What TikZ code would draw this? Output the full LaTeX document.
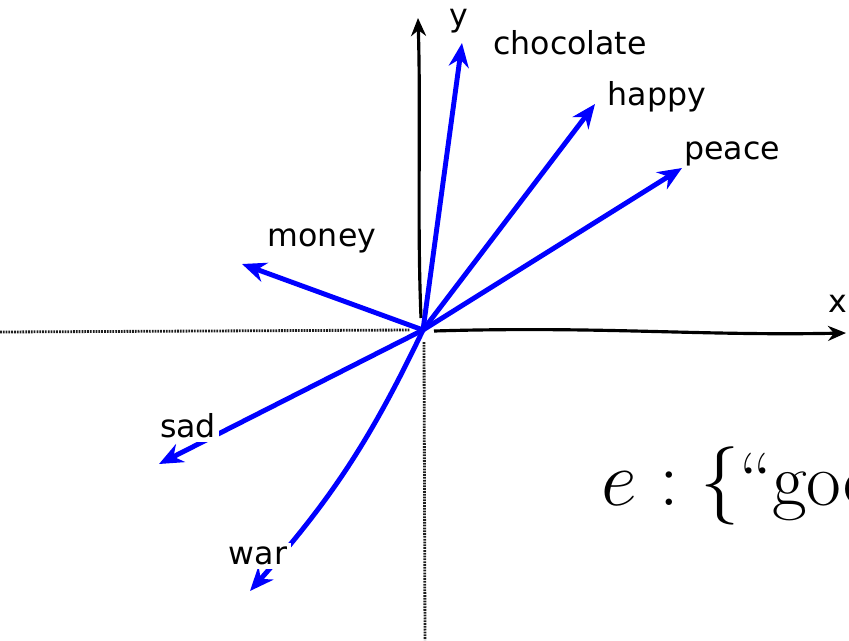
\documentclass[tikz,border=0pt]{standalone}
\usepackage{fontspec}
\newfontfamily\wordfont{DejaVu Sans}
\usepackage{xcolor}
\usetikzlibrary{arrows.meta}
\definecolor{vecblue}{RGB}{0,0,255}
\definecolor{axisgray}{RGB}{30,30,30}

\begin{document}
\begin{tikzpicture}[x=0.02cm, y=-0.02cm,
  vec/.style={draw=vecblue, line width=2.8pt, line cap=round,
              -{Stealth[length=4.8mm, width=4mm]}},
  axis/.style={draw=black, line width=1.8pt, -{Stealth[length=3.6mm, width=3mm]}},
  faint/.style={draw=axisgray, line width=1.6pt, dash pattern=on 1pt off 0.6pt},
  word/.style={font=\wordfont\fontsize{18}{20}\selectfont, inner sep=1pt},
  cover/.style={word, fill=white, inner sep=2pt}
]
  \useasboundingbox (0,0) rectangle (849,640);
  % axes
  \coordinate (o) at (423,330);
  \coordinate (xl) at (0,332);
  \coordinate (xr) at (846,333);
  \coordinate (yt) at (418,18);
  \coordinate (yb) at (425,640);
  \draw[faint] (xl) -- (410,330);
  \draw[faint] (424,342) -- (yb);
  \draw[axis] (434,331) .. controls (600,326) and (700,336) .. (xr);
  \draw[axis] (421,318) .. controls (417,220) and (421,120) .. (yt);
  \node[word] (ylab) at (459,21) {y};
  \node[word] (xlab) at (838,304) {x};
  % word vectors
  \coordinate (choc) at (462,43);
  \coordinate (hap) at (595,104);
  \coordinate (pea) at (682,168);
  \coordinate (mon) at (242,264);
  \coordinate (sa) at (159,464);
  \coordinate (wa) at (250,591);
  \draw[vec] (o) -- (choc);
  \draw[vec] (o) -- (hap);
  \draw[vec] (o) -- (pea);
  \draw[vec] (o) -- (mon);
  \draw[vec] (o) -- (sa);
  \draw[vec] (o) to[bend left=8] (wa);
  \node[word] (lchoc) at (570,43) {chocolate};
  \node[word] (lhap) at (657,97) {happy};
  \node[word] (lpea) at (732,154) {peace};
  \node[word] (lmon) at (322,241) {money};
  \node[cover] (lsa) at (188,426) {sad};
  \node[cover] (lwa) at (258,556) {war};
  % embedding
  \node[anchor=base west, inner sep=0pt, font=\fontsize{20}{22}\selectfont,
        scale=2.15, transform shape]
    (emb) at (601,505) {$e:\{$``goo};
\end{tikzpicture}
\end{document}
